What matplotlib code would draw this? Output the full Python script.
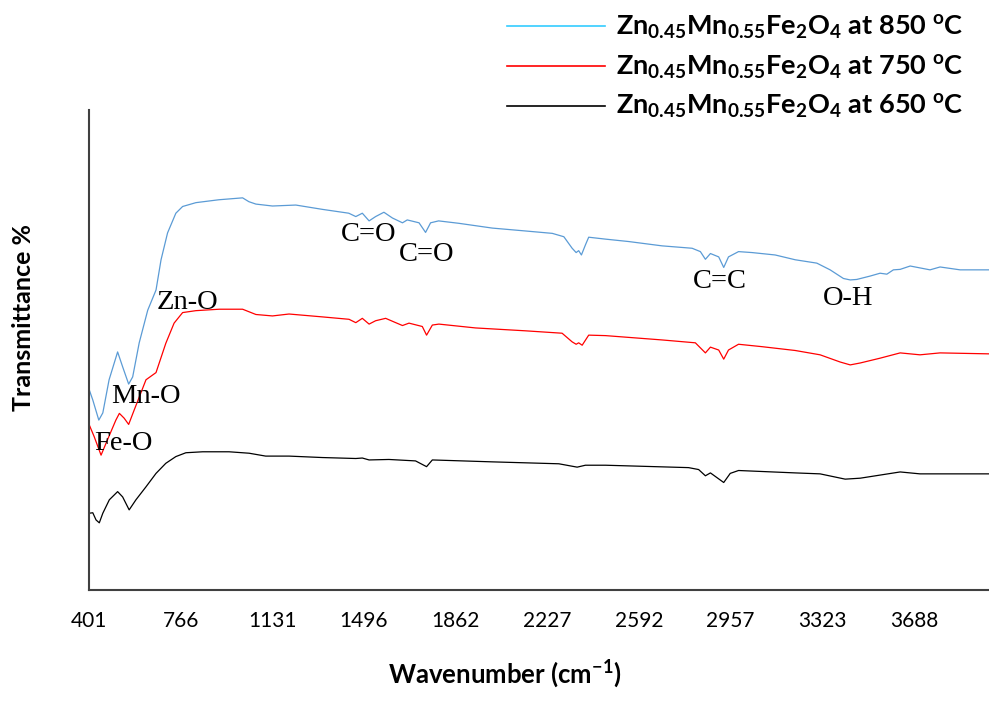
import matplotlib.pyplot as plt
from matplotlib.lines import Line2D

plt.rcParams['font.family'] = ['Lato', 'DejaVu Sans']
plt.rcParams['mathtext.fontset'] = 'custom'
plt.rcParams['mathtext.rm'] = 'Lato'
plt.rcParams['mathtext.bf'] = 'Lato:bold'
plt.rcParams['mathtext.default'] = 'bf'

# FTIR traces (wavenumber, transmittance in arbitrary units)
wn_850 = [402, 416, 440, 456, 481, 515, 535, 559, 575, 601, 635, 668, 688, 714, 747, 774, 827,
          918, 1013, 1038, 1066, 1132, 1225, 1331, 1436, 1464, 1490, 1517, 1543, 1576, 1610,
          1650, 1669, 1716, 1742, 1762, 1794, 1874, 2008, 2140, 2247, 2293, 2326, 2342, 2352,
          2363, 2379, 2392, 2459, 2551, 2684, 2804, 2837, 2857, 2877, 2910, 2930, 2949, 2989,
          3043, 3135, 3215, 3301, 3354, 3407, 3434, 3460, 3513, 3553, 3580, 3606, 3633, 3673,
          3752, 3792, 3872, 3987]
tr_850 = [41.7, 39.6, 35.4, 36.9, 43.8, 49.6, 46.5, 42.9, 44.4, 51.5, 58.3, 62.5, 68.8, 74.4,
          78.5, 79.9, 80.7, 81.3, 81.7, 80.9, 80.4, 80.0, 80.2, 79.3, 78.5, 77.8, 78.5, 76.9,
          77.8, 78.7, 77.5, 76.5, 77.1, 76.5, 74.5, 76.5, 76.9, 76.4, 75.4, 74.8, 74.3, 73.6,
          71.2, 70.3, 70.7, 69.8, 71.9, 73.5, 73.1, 72.6, 71.7, 71.2, 70.5, 68.9, 70.1, 69.4,
          67.2, 69.4, 70.5, 70.3, 69.8, 68.8, 68.1, 66.7, 64.9, 64.6, 64.7, 65.4, 66.0, 65.8,
          66.7, 66.8, 67.5, 66.7, 67.3, 66.7, 66.7]

wn_750 = [402, 422, 449, 469, 508, 522, 541, 559, 581, 628, 668, 707, 740, 774, 827, 920, 1013,
          1066, 1132, 1198, 1331, 1437, 1464, 1490, 1517, 1543, 1583, 1623, 1650, 1676, 1729,
          1746, 1769, 1795, 1941, 2140, 2286, 2326, 2342, 2352, 2366, 2392, 2459, 2684, 2817,
          2857, 2877, 2910, 2930, 2949, 2989, 3082, 3215, 3314, 3394, 3434, 3474, 3553, 3633,
          3712, 3792, 3987]
tr_750 = [34.4, 31.9, 28.1, 30.6, 35.4, 36.8, 35.8, 34.5, 37.5, 43.8, 45.3, 51.4, 55.6, 57.8,
          58.2, 58.5, 58.5, 57.4, 57.1, 57.5, 56.9, 56.4, 55.7, 56.6, 55.4, 56.1, 56.6, 55.7,
          55.1, 55.6, 54.9, 53.1, 55.2, 55.4, 54.6, 54.0, 53.5, 51.7, 51.2, 51.5, 51.0, 53.1,
          53.0, 52.1, 51.5, 49.4, 50.6, 50.0, 48.1, 50.0, 51.2, 50.7, 49.9, 49.0, 47.5, 46.9,
          47.3, 48.3, 49.4, 49.0, 49.4, 49.2]

wn_650 = [402, 416, 429, 442, 456, 482, 515, 535, 561, 588, 628, 668, 707, 747, 787, 854, 959,
          1039, 1105, 1198, 1331, 1464, 1490, 1517, 1596, 1702, 1746, 1769, 2008, 2273, 2346,
          2379, 2459, 2790, 2830, 2857, 2877, 2930, 2956, 2989, 3215, 3314, 3414, 3474, 3633,
          3712, 3987]
tr_650 = [16.0, 16.1, 14.6, 14.0, 16.0, 18.8, 20.5, 19.4, 16.7, 18.8, 21.5, 24.3, 26.4, 27.8,
          28.6, 28.8, 28.8, 28.5, 27.9, 27.9, 27.6, 27.4, 27.5, 27.1, 27.2, 26.9, 25.7, 27.1,
          26.7, 26.3, 25.6, 26.0, 26.0, 25.5, 25.1, 23.8, 24.4, 22.4, 24.3, 24.9, 24.4, 24.2,
          23.1, 23.3, 24.6, 24.2, 24.2]

tick_vals = [401, 766, 1131, 1496, 1862, 2227, 2592, 2957, 3323, 3688]

band_labels = ['Fe-O', 'Mn-O', 'Zn-O', 'C=O', 'C=O', 'C=C', 'O-H']
band_x = [536, 628, 795, 1515, 1746, 2916, 3426]
band_y = [30.6, 40.4, 60.0, 74.0, 69.8, 64.2, 60.8]

series_names = ['Zn$_{0.45}$Mn$_{0.55}$Fe$_{2}$O$_{4}$ at 850 $^{o}$C',
                'Zn$_{0.45}$Mn$_{0.55}$Fe$_{2}$O$_{4}$ at 750 $^{o}$C',
                'Zn$_{0.45}$Mn$_{0.55}$Fe$_{2}$O$_{4}$ at 650 $^{o}$C']

fig = plt.figure(figsize=(9.89, 7.02), dpi=100)
ax = fig.add_axes([0.090, 0.1595, 0.910, 0.6838])

ax.plot(wn_650, tr_650, color='black', lw=0.9)
ax.plot(wn_750, tr_750, color='#FF0000', lw=0.9)
ax.plot(wn_850, tr_850, color='#5B9BD5', lw=0.9)

for lab, x, y in zip(band_labels, band_x, band_y):
    ax.text(x, y, lab, ha='center', va='center', fontsize=20.5,
            family='Liberation Serif')

ax.set_xlim(401, 3987)
ax.set_ylim(0, 100)
ax.set_xticks(tick_vals)
ax.set_xticklabels([str(t) for t in tick_vals], fontsize=15)
ax.tick_params(axis='x', length=0, pad=15)
ax.set_yticks([])
for s in ['top', 'right']:
    ax.spines[s].set_visible(False)
for s in ['left', 'bottom']:
    ax.spines[s].set_color('#404040')
    ax.spines[s].set_linewidth(1.5)

fig.text(0.024, 0.548, 'Transmittance %', rotation=90, ha='center', va='center',
         fontsize=18, fontweight='bold')
fig.text(0.51, 0.017, 'Wavenumber (cm$^{-1}$)', ha='center', va='bottom',
         fontsize=18.5, fontweight='bold')

handles = [Line2D([], [], color='#33CCFF', lw=1.2),
           Line2D([], [], color='#FF0000', lw=1.2),
           Line2D([], [], color='black', lw=1.2)]
fig.legend(handles, series_names, loc='upper left', bbox_to_anchor=(0.513, 0.98),
           frameon=False, prop={'weight': 'bold', 'size': 19.5},
           handlelength=3.6, handletextpad=0.4, labelspacing=0.42,
           borderpad=0, borderaxespad=0)

fig.savefig('out.png', dpi=100)
